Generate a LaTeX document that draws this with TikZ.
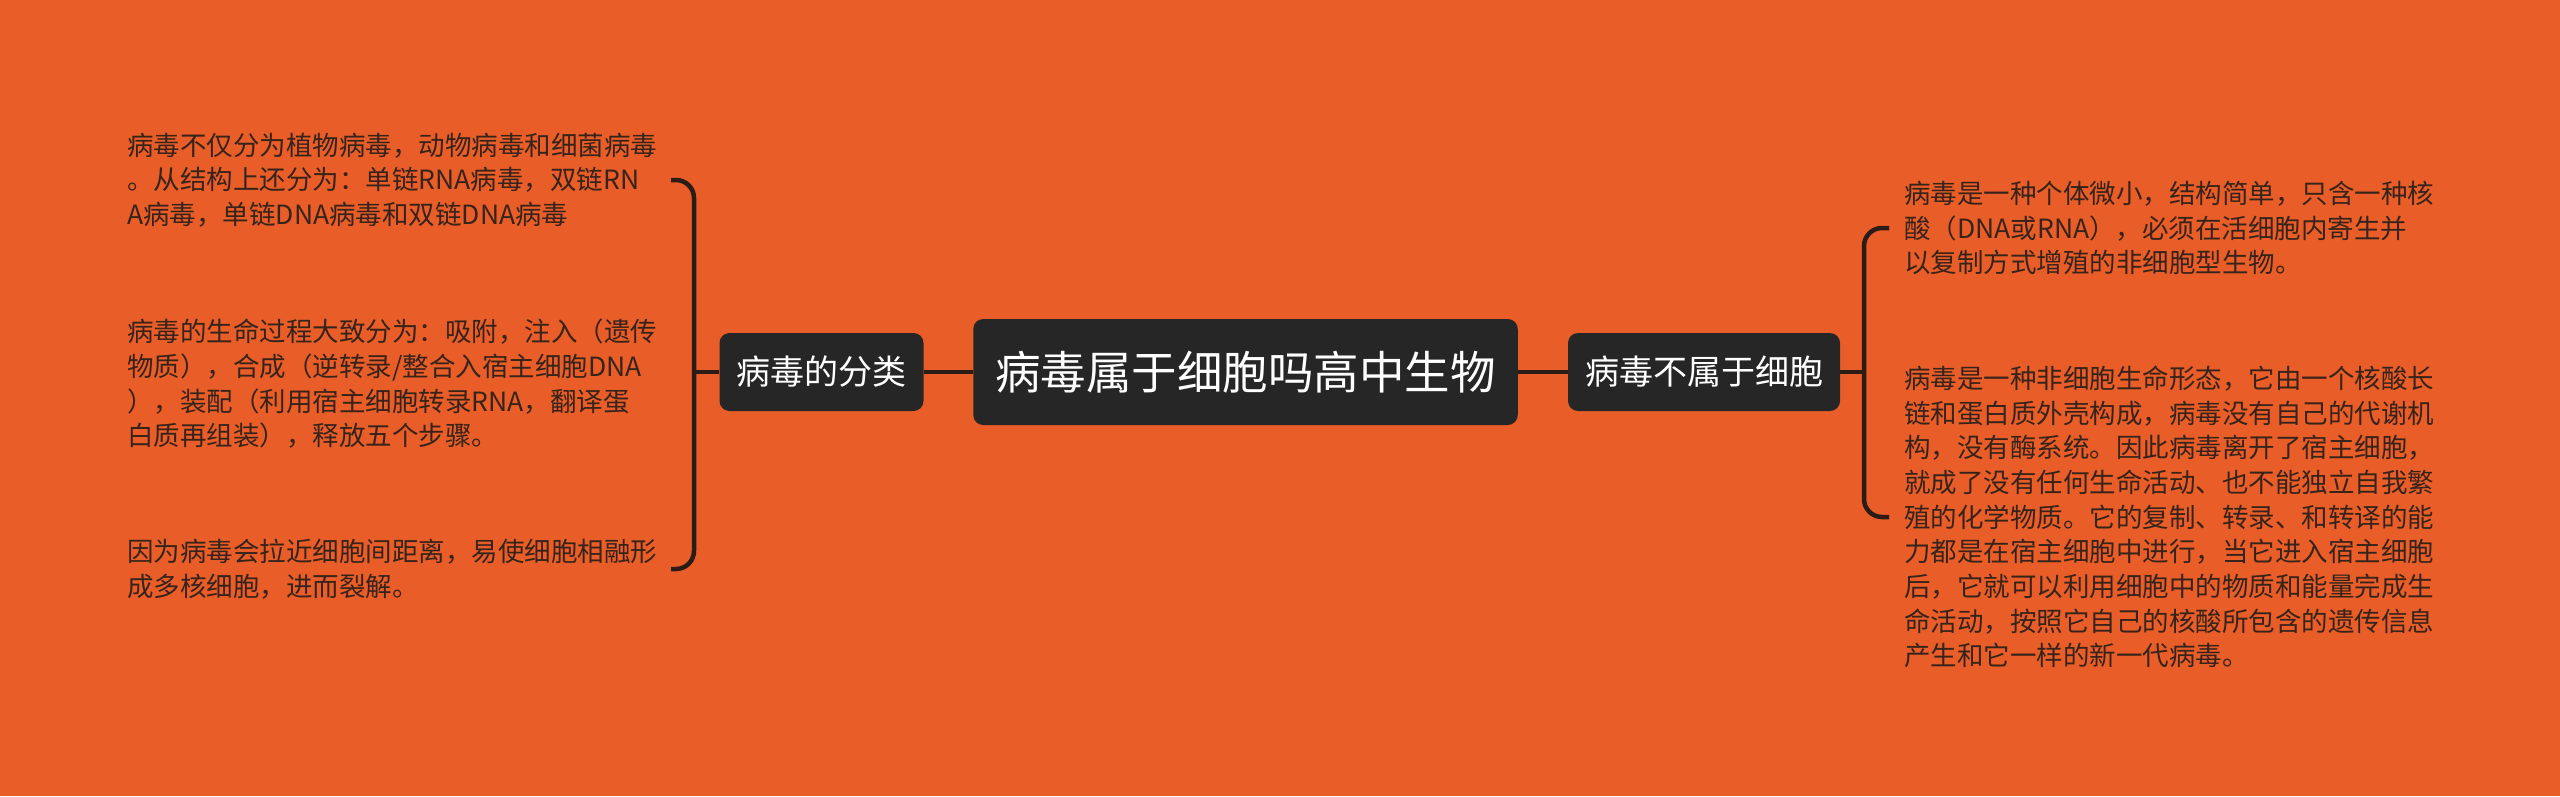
\documentclass[tikz,border=0pt]{standalone}
\usepackage{fontspec}
\newfontfamily\cjk{Noto Sans CJK SC}
\definecolor{bgorange}{HTML}{E95D28}
\definecolor{boxgray}{HTML}{262626}
\definecolor{linedark}{HTML}{2B1C16}
\definecolor{leaftext}{HTML}{36241B}

\begin{document}
\begin{tikzpicture}[x=1pt, y=-1pt,
	topic/.style={fill=boxgray, text=white, rounded corners=10pt, inner xsep=22pt, inner ysep=0pt, minimum height=106pt, font=\fontsize{45.5}{55}\selectfont\cjk},
	branch/.style={fill=boxgray, text=white, rounded corners=10pt, inner xsep=17pt, inner ysep=0pt, minimum height=78pt, font=\fontsize{34}{40}\selectfont\cjk},
	leaf/.style={text=leaftext, align=left, inner sep=0pt, font=\fontsize{26.5}{34.7}\selectfont\cjk},
	link/.style={draw=linedark, line width=4.5pt}]

		% background
		\fill [bgorange] (0,0) rectangle (2560,796);

		% main topic and branches
		\node [topic] (root) at (1245.5,372) {病毒属于细胞吗高中生物};
		\node [branch] (classify) at (821.5,372) {病毒的分类};
		\node [branch] (notcell) at (1704,372) {病毒不属于细胞};

		% left leaves
		\node [leaf, anchor=west] (cls-1) at (127,180) {病毒不仅分为植物病毒，动物病毒和细菌病毒\\。从结构上还分为：单链RNA病毒，双链RN\\A病毒，单链DNA病毒和双链DNA病毒};
		\node [leaf, anchor=west] (cls-2) at (127,384) {病毒的生命过程大致分为：吸附，注入（遗传\\物质），合成（逆转录/整合入宿主细胞DNA\\），装配（利用宿主细胞转录RNA，翻译蛋\\白质再组装），释放五个步骤。};
		\node [leaf, anchor=west] (cls-3) at (127,569) {因为病毒会拉近细胞间距离，易使细胞相融形\\成多核细胞，进而裂解。};

		% right leaves
		\node [leaf, anchor=west] (nc-1) at (1904,228) {病毒是一种个体微小，结构简单，只含一种核\\酸（DNA或RNA），必须在活细胞内寄生并\\以复制方式增殖的非细胞型生物。};
		\node [leaf, anchor=west] (nc-2) at (1904,517) {病毒是一种非细胞生命形态，它由一个核酸长\\链和蛋白质外壳构成，病毒没有自己的代谢机\\构，没有酶系统。因此病毒离开了宿主细胞，\\就成了没有任何生命活动、也不能独立自我繁\\殖的化学物质。它的复制、转录、和转译的能\\力都是在宿主细胞中进行，当它进入宿主细胞\\后，它就可以利用细胞中的物质和能量完成生\\命活动，按照它自己的核酸所包含的遗传信息\\产生和它一样的新一代病毒。};

		% bracket points
		\coordinate (lbar) at (694,372);
		\coordinate (ltip) at (671,372);
		\coordinate (rbar) at (1864,372);
		\coordinate (rtip) at (1889,372);

		% lines from root to branches
		\draw [link] (root.west) -- (classify.east);
		\draw [link] (root.east) -- (notcell.west);

		% lines from branches to brackets
		\draw [link] (classify.west) -- (lbar);
		\draw [link] (notcell.east) -- (rbar);

		% brackets
		\draw [link, rounded corners=18pt] (ltip |- cls-1.west) -- (lbar |- cls-1.west) -- (lbar |- cls-3.west) -- (ltip |- cls-3.west);
		\draw [link, rounded corners=18pt] (rtip |- nc-1.west) -- (rbar |- nc-1.west) -- (rbar |- nc-2.west) -- (rtip |- nc-2.west);

\end{tikzpicture}
\end{document}
